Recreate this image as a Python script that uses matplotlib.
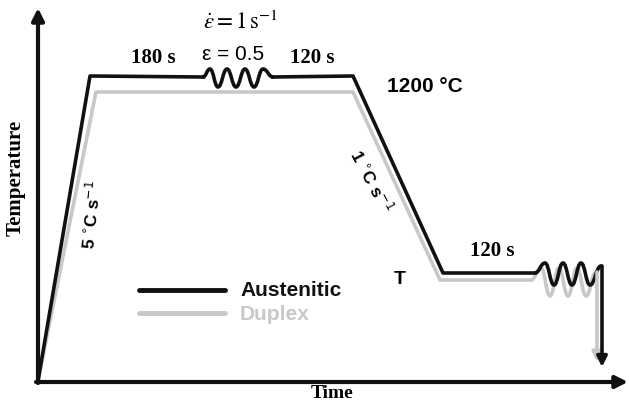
import matplotlib
matplotlib.use('Agg')
import matplotlib.pyplot as plt
from matplotlib.path import Path
from matplotlib.patches import PathPatch

# schematic thermo-mechanical route, in figure pixel units (y grows downwards)
# straight segments
aus_t = [38, 90, 203]
aus_T = [381, 76, 77]
aus_t2 = [273, 353, 443, 535]
aus_T2 = [77, 76, 273, 273]
# deformation waves (peaks / valleys)
aus_w1_t = [203, 210, 218, 227, 236, 245, 254, 263, 273]
aus_w1_T = [77, 69, 87, 69, 87, 69, 87, 69, 77]
aus_w2_t = [535, 545, 554, 563, 572, 581, 590, 601]
aus_w2_T = [273, 263, 285, 263, 285, 263, 285, 266]
aus_drop_x = 602
aus_drop = [266, 367]

dup_t = [38, 96, 353, 440, 531]
dup_T = [381, 92, 92, 280, 280]
dup_w_t = [531, 541, 550, 559, 568, 577, 586, 596]
dup_w_T = [280, 268, 296, 268, 296, 268, 296, 272]
dup_drop_x = 597
dup_drop = [272, 362]

black = '#111111'
grey = '#c8c8c8'
lw = 2.6


def wave(ax, xs, ys, color):
    # smooth half-cycles with horizontal tangents at every peak and valley
    verts = [(xs[0], ys[0])]
    codes = [Path.MOVETO]
    for i in range(1, len(xs)):
        d = 0.45 * (xs[i] - xs[i - 1])
        verts += [(xs[i - 1] + d, ys[i - 1]), (xs[i] - d, ys[i]), (xs[i], ys[i])]
        codes += [Path.CURVE4] * 3
    ax.add_patch(PathPatch(Path(verts, codes), fill=False, edgecolor=color, lw=lw,
                           joinstyle='round', capstyle='round'))


fig = plt.figure(figsize=(6.29, 4.05), dpi=100)
ax = fig.add_axes([0, 0, 1, 1])
ax.set_xlim(0, 629)
ax.set_ylim(405, 0)
ax.axis('off')

# axes arrows
ax.annotate('', xy=(38, 8), xytext=(38, 383),
            arrowprops=dict(arrowstyle='-|>', lw=3, color=black, mutation_scale=18,
                            shrinkA=0, shrinkB=0))
ax.annotate('', xy=(628, 382), xytext=(36, 382),
            arrowprops=dict(arrowstyle='-|>', lw=3, color=black, mutation_scale=18,
                            shrinkA=0, shrinkB=0))

# duplex (grey) first, behind
ax.plot(dup_t, dup_T, color=grey, lw=lw, solid_joinstyle='round')
wave(ax, dup_w_t, dup_w_T, grey)
ax.annotate('', xy=(dup_drop_x, dup_drop[1]), xytext=(dup_drop_x, dup_drop[0]),
            arrowprops=dict(arrowstyle='-|>', lw=lw, color=grey, mutation_scale=14,
                            shrinkA=0, shrinkB=0))
ax.plot(aus_t, aus_T, color=black, lw=lw, solid_joinstyle='round')
ax.plot(aus_t2, aus_T2, color=black, lw=lw, solid_joinstyle='round')
wave(ax, aus_w1_t, aus_w1_T, black)
wave(ax, aus_w2_t, aus_w2_T, black)
ax.annotate('', xy=(aus_drop_x, aus_drop[1]), xytext=(aus_drop_x, aus_drop[0]),
            arrowprops=dict(arrowstyle='-|>', lw=lw, color=black, mutation_scale=15,
                            shrinkA=0, shrinkB=0))

serif = 'Liberation Serif'
sans = 'Liberation Sans'

ax.text(16, 178, 'Temperature', rotation=90, ha='center', va='center',
        family=serif, weight='bold', fontsize=15)
ax.text(332, 394, 'Time', ha='center', va='center', family=serif, weight='bold', fontsize=14)

ax.text(153, 58, '180 s', ha='center', va='center', family=serif, weight='bold', fontsize=15)
ax.text(312, 58, '120 s', ha='center', va='center', family=serif, weight='bold', fontsize=15)
ax.text(492, 251, '120 s', ha='center', va='center', family=serif, weight='bold', fontsize=15)
ax.text(233, 55, 'ε = 0.5', ha='center', va='center', family=sans, fontsize=15)
ax.text(241, 22, r'$\dot{\varepsilon} = 1\,\mathrm{s}^{-1}$', ha='center', va='center',
        fontsize=16.5, math_fontfamily='stix')

ax.text(425, 87, '1200 °C', ha='center', va='center', family=sans, weight='bold', fontsize=15)
ax.text(371, 181, r'1 $^{\circ}$C s$^{-1}$', ha='center', va='center', rotation=-62,
        family=sans, weight='bold', fontsize=12.5)
ax.text(92, 215, r'5 $^{\circ}$C s$^{-1}$', ha='center', va='center', rotation=84,
        family=sans, weight='bold', fontsize=12.5)
ax.text(400, 279, 'T', ha='center', va='center', family=sans, weight='bold', fontsize=14)

# legend
ax.plot([139, 225], [290, 290], color=black, lw=3.5, solid_capstyle='round')
ax.plot([139, 225], [313, 313], color=grey, lw=3.5, solid_capstyle='round')
ax.text(240, 290, 'Austenitic', ha='left', va='center', family=sans, weight='bold',
        fontsize=15, color=black)
ax.text(240, 314, 'Duplex', ha='left', va='center', family=sans, weight='bold',
        fontsize=15, color=grey)

fig.savefig('out.png', dpi=100)
